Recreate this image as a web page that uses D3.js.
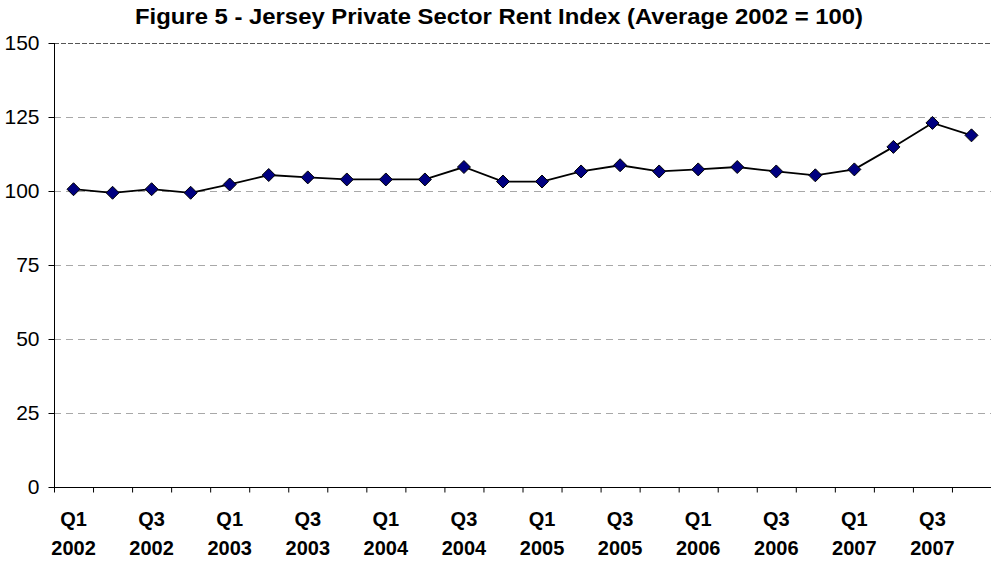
<!DOCTYPE html>
<html>
<head>
<meta charset="utf-8">
<script src="https://cdn.jsdelivr.net/npm/d3@7"></script>
<style>
  body { margin: 0; background: #fff; }
  svg { display: block; font-family: "Liberation Sans", Arial, sans-serif; }
  .title { font-weight: bold; font-size: 22px; }
  .ylab { font-size: 21px; }
  .xlab { font-weight: bold; font-size: 20px; }
</style>
</head>
<body>
<svg id="chart" width="991" height="562"></svg>
<script>
// quarters Q1 2002 .. Q4 2007
const quarters = ["Q1", "Q2", "Q3", "Q4"];
const years = ["2002", "2003", "2004", "2005", "2006", "2007"];
const rentIndex = [100.6, 99.4, 100.6, 99.4, 102.2, 105.4, 104.6, 103.9,
                   103.9, 103.9, 108.1, 103.2, 103.2, 106.6, 108.7, 106.6,
                   107.3, 108.1, 106.6, 105.3, 107.3, 114.9, 123.0, 118.8];
const yTicks = [0, 25, 50, 75, 100, 125, 150];

const svg = d3.select("#chart");
const margin = { top: 43, right: 0, bottom: 75, left: 54 };
const width = +svg.attr("width") - margin.left - margin.right;
const height = +svg.attr("height") - margin.top - margin.bottom;

const data = rentIndex.map((v, i) => ({
    q: quarters[i % 4],
    yr: years[Math.floor(i / 4)],
    value: v,
    i: i
}));

const chart = svg.append("g")
    .attr("transform", `translate(${margin.left}, ${margin.top})`);

const x = d3.scaleLinear()
    .domain([0, data.length])
    .range([0, width]);

const y = d3.scaleLinear()
    .domain([0, 150])
    .range([height, 0]);

// gridlines
chart.append("g")
    .selectAll("line")
    .data(yTicks.filter(t => t > 0))
    .join("line")
    .attr("x1", 0)
    .attr("x2", width)
    .attr("y1", d => Math.round(y(d)) + 0.5)
    .attr("y2", d => Math.round(y(d)) + 0.5)
    .attr("stroke", d => d === 150 ? "#555" : "#a8a8a8")
    .attr("stroke-dasharray", d => d === 150 ? "5,2" : "7,5");

// y axis
const yAxis = chart.append("g")
    .attr("transform", "translate(0.5, 0)")
    .call(d3.axisLeft(y).tickValues(yTicks).tickSize(6).tickPadding(9));
yAxis.selectAll("text").attr("class", "ylab").attr("fill", "#000");
yAxis.selectAll("line, path").attr("stroke", "#000");
yAxis.select(".domain").attr("d", `M0,${height}V0`);

// x axis
const xAxis = chart.append("g")
    .attr("transform", `translate(0, ${height + 0.5})`)
    .call(d3.axisBottom(x).tickValues(d3.range(data.length + 1)).tickSize(5).tickFormat(""));
xAxis.selectAll("line, path").attr("stroke", "#000");
xAxis.select(".domain").attr("d", `M0,0H${width}`);

// category labels, every other quarter
const labels = chart.append("g")
    .selectAll("text")
    .data(data.filter(d => d.i % 2 === 0))
    .join("text")
    .attr("class", "xlab")
    .attr("text-anchor", "middle")
    .attr("x", d => x(d.i + 0.5));
labels.append("tspan")
    .attr("x", d => x(d.i + 0.5))
    .attr("y", height + 39)
    .text(d => d.q);
labels.append("tspan")
    .attr("x", d => x(d.i + 0.5))
    .attr("y", height + 68)
    .text(d => d.yr);

// series line
const line = d3.line()
    .x(d => x(d.i + 0.5))
    .y(d => y(d.value));

chart.append("path")
    .datum(data)
    .attr("fill", "none")
    .attr("stroke", "#000")
    .attr("stroke-width", 1.8)
    .attr("d", line);

// diamond markers
chart.append("g")
    .selectAll("path")
    .data(data)
    .join("path")
    .attr("transform", d => `translate(${x(d.i + 0.5)}, ${y(d.value)})`)
    .attr("d", "M0,-6.5L6.5,0L0,6.5L-6.5,0Z")
    .attr("fill", "#000080")
    .attr("stroke", "#000")
    .attr("stroke-width", 1);

// title
svg.append("text")
    .attr("class", "title")
    .attr("x", 499)
    .attr("y", 24)
    .attr("text-anchor", "middle")
    .attr("textLength", 728)
    .attr("lengthAdjust", "spacingAndGlyphs")
    .text("Figure 5 - Jersey Private Sector Rent Index (Average 2002 = 100)");
</script>
</body>
</html>
